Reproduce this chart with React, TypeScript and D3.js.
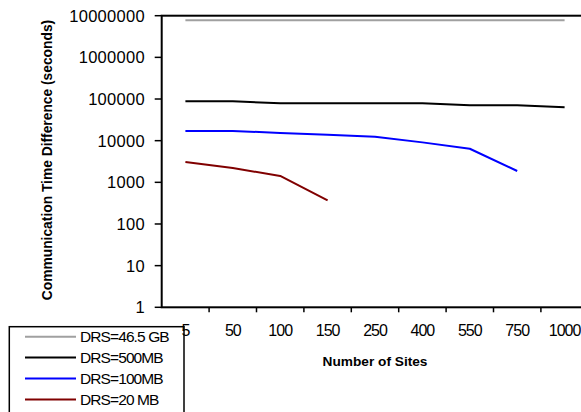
import React from 'react';
import * as d3 from 'd3';

const sites = ['5', '50', '100', '150', '250', '400', '550', '750', '1000'];
const yTicks = [1, 10, 100, 1000, 10000, 100000, 1000000, 10000000];

const drs46GB = [7800000, 7800000, 7800000, 7800000, 7800000, 7800000, 7800000, 7800000, 7800000];
const drs500MB = [88000, 88000, 79000, 79000, 79000, 79000, 70500, 70500, 63000];
const drs100MB = [17100, 17100, 15300, 13900, 12500, 9100, 6400, 1870];
const drs20MB = [3070, 2200, 1420, 370];

const seriesList = [
  { name: 'DRS=46.5 GB', color: '#a0a0a0', values: drs46GB },
  { name: 'DRS=500MB', color: '#000000', values: drs500MB },
  { name: 'DRS=100MB', color: '#0000ff', values: drs100MB },
  { name: 'DRS=20 MB', color: '#800000', values: drs20MB },
];

const W = 581;
const H = 412;
const font = '"Liberation Sans", Arial, sans-serif';

export default function App() {
  const plot = { left: 161.7, right: 588.3, top: 15.7, bottom: 307.3 };

  const x = d3.scaleBand<string>().domain(sites).range([plot.left, plot.right]).padding(0);
  const bw = x.bandwidth();
  const cx = (s: string) => (x(s) as number) + bw / 2;
  const y = d3.scaleLog().domain([1, 1e7]).range([plot.bottom, plot.top]);

  const line = d3
    .line<number>()
    .x((_, i) => cx(sites[i]))
    .y(d => y(d));

  // tick marks sit on the boundaries between categories
  const xBoundaries = sites.slice(1).map(s => x(s) as number);

  const legendX = 9.3;
  const legendY = 326.7;
  const rowY = (i: number) => 336.7 + i * 20.9;

  return (
    <svg
      width={W}
      height={H}
      style={{ position: 'absolute', left: 0, top: 0, background: '#fff' }}
      fontFamily={font}
    >
      {/* data lines */}
      {seriesList.map(s => (
        <path
          key={s.name}
          d={line(s.values) || ''}
          fill="none"
          stroke={s.color}
          strokeWidth={2}
          strokeLinejoin="round"
        />
      ))}

      {/* plot frame */}
      <rect
        x={plot.left}
        y={plot.top}
        width={plot.right - plot.left}
        height={plot.bottom - plot.top}
        fill="none"
        stroke="#000"
        strokeWidth={2}
      />

      {/* y ticks */}
      {yTicks.map(t => (
        <g key={t}>
          <line x1={plot.left - 7} x2={plot.left} y1={y(t)} y2={y(t)} stroke="#000" strokeWidth={1.5} />
          <text x={145} y={y(t) + 6} textAnchor="end" fontSize={16.5} letterSpacing={0.3} fill="#000">
            {t}
          </text>
        </g>
      ))}

      {/* x ticks */}
      {xBoundaries.map(b => (
        <line key={b} x1={b} x2={b} y1={plot.bottom} y2={plot.bottom + 5} stroke="#000" strokeWidth={1.5} />
      ))}

      <text
        transform={`translate(52,160) rotate(-90)`}
        textAnchor="middle"
        fontSize={13.8}
        fontWeight="bold"
      >
        Communication Time Difference (seconds)
      </text>

      <text x={375} y={366} textAnchor="middle" fontSize={13.7} fontWeight="bold">
        Number of Sites
      </text>

      {/* legend */}
      <rect
        x={legendX}
        y={legendY}
        width={184 - legendX}
        height={120}
        fill="#fff"
        stroke="#000"
        strokeWidth={1.5}
      />
      {seriesList.map((s, i) => (
        <g key={s.name}>
          <line x1={25} x2={76} y1={rowY(i)} y2={rowY(i)} stroke={s.color} strokeWidth={2} />
          <text x={80} y={rowY(i) + 5.5} fontSize={15.5} letterSpacing={-0.9}>
            {s.name}
          </text>
        </g>
      ))}

      {/* x tick labels drawn above the legend box */}
      {sites.map(s => (
        <text key={s} x={cx(s)} y={336} textAnchor="middle" fontSize={16} letterSpacing={-1}>
          {s}
        </text>
      ))}
    </svg>
  );
}
